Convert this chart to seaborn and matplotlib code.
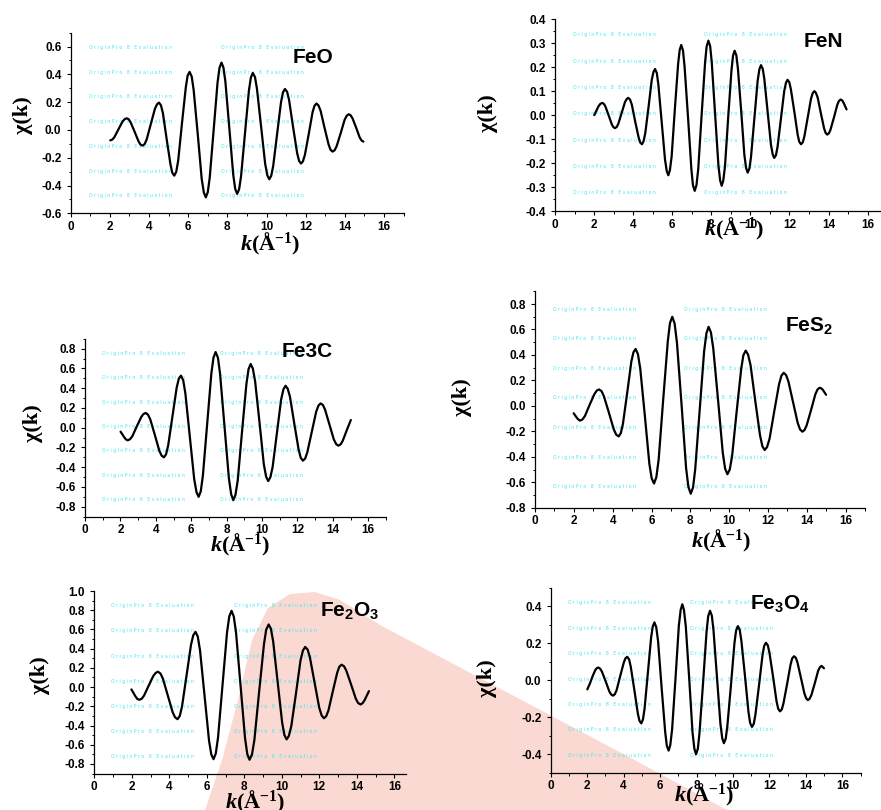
import matplotlib
matplotlib.use("Agg")
import numpy as np
import pandas as pd
import matplotlib.pyplot as plt
import seaborn as sns
from matplotlib.ticker import MultipleLocator, FormatStrFormatter
from matplotlib.patches import Polygon

# EXAFS chi(k) curves
k_feo = [2.02, 2.13, 2.23, 2.44, 2.65, 2.76, 2.86, 2.96, 3.06, 3.27, 3.47, 3.57,
         3.67, 3.78, 3.88, 4.09, 4.30, 4.41, 4.51, 4.61, 4.71, 4.90, 5.10, 5.19,
         5.29, 5.39, 5.49, 5.68, 5.88, 5.97, 6.07, 6.18, 6.28, 6.49, 6.69, 6.80,
         6.90, 7.00, 7.10, 7.30, 7.50, 7.60, 7.70, 7.80, 7.90, 8.10, 8.30, 8.40,
         8.50, 8.60, 8.70, 8.90, 9.10, 9.20, 9.30, 9.41, 9.51, 9.72, 9.93, 10.04,
         10.14, 10.24, 10.34, 10.54, 10.74, 10.84, 10.94, 11.05, 11.15, 11.35, 11.56, 11.66,
         11.76, 11.86, 11.96, 12.16, 12.35, 12.45, 12.55, 12.65, 12.76, 12.96, 13.17, 13.27,
         13.37, 13.48, 13.58, 13.79, 13.99, 14.10, 14.20, 14.29, 14.39, 14.58, 14.76, 14.86,
         14.95]
chi_feo = [-0.075, -0.069, -0.052, 0.005, 0.061, 0.078, 0.084, 0.077, 0.055, -0.015, -0.084, -0.106,
           -0.113, -0.101, -0.068, 0.042, 0.152, 0.185, 0.197, 0.177, 0.120, -0.066, -0.252, -0.309,
           -0.329, -0.301, -0.220, 0.045, 0.309, 0.390, 0.418, 0.384, 0.286, -0.034, -0.353, -0.451,
           -0.485, -0.448, -0.343, 0.000, 0.343, 0.448, 0.485, 0.449, 0.347, 0.013, -0.322, -0.424,
           -0.460, -0.427, -0.333, -0.025, 0.283, 0.377, 0.410, 0.381, 0.298, 0.028, -0.243, -0.326,
           -0.355, -0.330, -0.260, -0.030, 0.200, 0.270, 0.295, 0.275, 0.217, 0.027, -0.164, -0.222,
           -0.242, -0.226, -0.179, -0.026, 0.127, 0.174, 0.190, 0.177, 0.139, 0.017, -0.105, -0.143,
           -0.156, -0.146, -0.117, -0.022, 0.074, 0.103, 0.113, 0.106, 0.084, 0.015, -0.055, -0.077,
           -0.084]

k_fen = [2.01, 2.22, 2.32,
         2.42, 2.50, 2.58, 2.75, 2.91, 2.99, 3.07, 3.16, 3.24, 3.41, 3.58, 3.67,
         3.75, 3.84, 3.93, 4.10, 4.28, 4.36, 4.45, 4.53, 4.62, 4.79, 4.95, 5.04,
         5.12, 5.21, 5.29, 5.46, 5.63, 5.72, 5.80, 5.88, 5.97, 6.13, 6.30, 6.38,
         6.46, 6.55, 6.63, 6.81, 6.98, 7.06, 7.15, 7.24, 7.33, 7.50, 7.68, 7.76,
         7.85, 7.94, 8.02, 8.19, 8.36, 8.45, 8.53, 8.61, 8.70, 8.86, 9.03, 9.11,
         9.19, 9.28, 9.36, 9.53, 9.69, 9.78, 9.86, 9.95, 10.03, 10.20, 10.37, 10.46,
         10.54, 10.63, 10.71, 10.88, 11.05, 11.14, 11.22, 11.31, 11.39, 11.56, 11.73, 11.82,
         11.90, 11.99, 12.07, 12.25, 12.42, 12.50, 12.59, 12.68, 12.76, 12.93, 13.10, 13.19,
         13.27, 13.35, 13.44, 13.60, 13.77, 13.85, 13.93, 14.02, 14.10, 14.28, 14.45, 14.53,
         14.62, 14.70, 14.77, 14.92]
chi_fen = [0.000, 0.036, 0.047,
           0.051, 0.047, 0.036, -0.002, -0.039, -0.050, -0.054, -0.049, -0.036, 0.009, 0.054, 0.067,
           0.072, 0.065, 0.044, -0.025, -0.093, -0.114, -0.121, -0.109, -0.075, 0.036, 0.146, 0.180,
           0.192, 0.175, 0.127, -0.029, -0.185, -0.233, -0.250, -0.229, -0.171, 0.021, 0.213, 0.271,
           0.292, 0.269, 0.203, -0.012, -0.226, -0.292, -0.315, -0.291, -0.224, -0.003, 0.219, 0.286,
           0.310, 0.287, 0.222, 0.008, -0.206, -0.271, -0.294, -0.273, -0.212, -0.013, 0.186, 0.247,
           0.268, 0.249, 0.194, 0.015, -0.165, -0.220, -0.239, -0.222, -0.174, -0.016, 0.143, 0.191,
           0.208, 0.193, 0.152, 0.015, -0.122, -0.163, -0.178, -0.166, -0.131, -0.016, 0.100, 0.135,
           0.147, 0.137, 0.108, 0.013, -0.082, -0.111, -0.121, -0.113, -0.089, -0.011, 0.068, 0.092,
           0.100, 0.093, 0.074, 0.010, -0.055, -0.074, -0.081, -0.075, -0.060, -0.008, 0.044, 0.059,
           0.065, 0.061, 0.051, 0.024]

k_fe3c = [2.01, 2.21, 2.31,
          2.41, 2.54, 2.67, 2.92, 3.18, 3.30, 3.43, 3.56, 3.69, 3.95, 4.20, 4.33,
          4.46, 4.58, 4.70, 4.94, 5.18, 5.30, 5.42, 5.55, 5.67, 5.92, 6.17, 6.30,
          6.42, 6.54, 6.66, 6.90, 7.14, 7.26, 7.38, 7.51, 7.63, 7.88, 8.13, 8.26,
          8.38, 8.50, 8.63, 8.87, 9.12, 9.24, 9.36, 9.48, 9.61, 9.86, 10.10, 10.23,
          10.35, 10.47, 10.60, 10.84, 11.08, 11.21, 11.33, 11.45, 11.58, 11.82, 12.07, 12.19,
          12.31, 12.44, 12.56, 12.81, 13.06, 13.19, 13.31, 13.44, 13.56, 13.81, 14.06, 14.19,
          14.31, 14.44, 14.56, 14.81, 15.02]
chi_fe3c = [-0.040, -0.095, -0.118,
            -0.128, -0.117, -0.088, 0.011, 0.109, 0.138, 0.149, 0.132, 0.083, -0.076, -0.234, -0.283,
            -0.300, -0.269, -0.179, 0.114, 0.406, 0.496, 0.527, 0.480, 0.348, -0.087, -0.521, -0.653,
            -0.700, -0.644, -0.486, 0.033, 0.552, 0.710, 0.766, 0.709, 0.547, 0.017, -0.514, -0.676,
            -0.733, -0.681, -0.532, -0.044, 0.444, 0.593, 0.645, 0.600, 0.472, 0.053, -0.367, -0.495,
            -0.540, -0.503, -0.399, -0.058, 0.284, 0.388, 0.425, 0.396, 0.314, 0.046, -0.223, -0.305,
            -0.334, -0.312, -0.249, -0.044, 0.161, 0.224, 0.246, 0.230, 0.184, 0.032, -0.120, -0.166,
            -0.182, -0.169, -0.133, -0.016, 0.078]

k_fes2 = [1.99, 2.16, 2.24,
          2.32, 2.44, 2.57, 2.81, 3.06, 3.18, 3.30, 3.43, 3.55, 3.81, 4.06, 4.18,
          4.31, 4.42, 4.53, 4.75, 4.96, 5.07, 5.18, 5.30, 5.42, 5.66, 5.89, 6.01,
          6.13, 6.25, 6.37, 6.60, 6.84, 6.95, 7.07, 7.19, 7.31, 7.55, 7.78, 7.90,
          8.02, 8.14, 8.25, 8.48, 8.71, 8.83, 8.94, 9.06, 9.18, 9.43, 9.67, 9.79,
          9.91, 10.03, 10.15, 10.38, 10.62, 10.73, 10.85, 10.97, 11.10, 11.34, 11.59, 11.71,
          11.83, 11.95, 12.08, 12.32, 12.57, 12.69, 12.81, 12.93, 13.05, 13.29, 13.53, 13.65,
          13.77, 13.88, 13.99, 14.22, 14.44, 14.55, 14.66, 14.75, 14.83, 14.99]
chi_fes2 = [-0.058, -0.095, -0.108,
            -0.116, -0.107, -0.080, 0.007, 0.093, 0.120, 0.129, 0.115, 0.075, -0.056, -0.186, -0.226,
            -0.240, -0.214, -0.140, 0.104, 0.347, 0.421, 0.447, 0.407, 0.293, -0.082, -0.456, -0.570,
            -0.610, -0.560, -0.419, 0.045, 0.509, 0.650, 0.700, 0.647, 0.497, 0.005, -0.487, -0.637,
            -0.690, -0.640, -0.499, -0.035, 0.430, 0.571, 0.621, 0.577, 0.452, 0.042, -0.368, -0.493,
            -0.537, -0.500, -0.395, -0.052, 0.292, 0.397, 0.434, 0.404, 0.320, 0.044, -0.233, -0.317,
            -0.347, -0.324, -0.258, -0.044, 0.171, 0.237, 0.260, 0.242, 0.192, 0.029, -0.135, -0.185,
            -0.203, -0.190, -0.153, -0.031, 0.092, 0.129, 0.142, 0.137, 0.125, 0.087]

k_fe2o3 = [1.98, 2.19, 2.29,
           2.40, 2.53, 2.65, 2.90, 3.15, 3.28, 3.40, 3.53, 3.66, 3.92, 4.18, 4.31,
           4.44, 4.56, 4.68, 4.92, 5.16, 5.28, 5.40, 5.52, 5.64, 5.88, 6.12, 6.24,
           6.36, 6.48, 6.60, 6.84, 7.08, 7.20, 7.32, 7.44, 7.56, 7.80, 8.04, 8.16,
           8.28, 8.41, 8.54, 8.79, 9.05, 9.17, 9.30, 9.42, 9.54, 9.78, 10.02, 10.14,
           10.26, 10.38, 10.51, 10.76, 11.00, 11.13, 11.25, 11.38, 11.50, 11.75, 12.00, 12.13,
           12.25, 12.37, 12.49, 12.72, 12.96, 13.07, 13.19, 13.32, 13.44, 13.70, 13.95, 14.07,
           14.20, 14.31, 14.42, 14.65]
chi_fe2o3 = [-0.024, -0.095, -0.122,
             -0.132, -0.121, -0.089, 0.014, 0.117, 0.149, 0.160, 0.141, 0.088, -0.087, -0.262, -0.315,
             -0.334, -0.299, -0.201, 0.120, 0.442, 0.540, 0.575, 0.525, 0.382, -0.088, -0.557, -0.700,
             -0.750, -0.691, -0.525, 0.022, 0.569, 0.735, 0.794, 0.735, 0.568, 0.019, -0.530, -0.697,
             -0.756, -0.702, -0.550, -0.052, 0.446, 0.598, 0.652, 0.607, 0.477, 0.054, -0.369, -0.499,
             -0.544, -0.507, -0.404, -0.063, 0.278, 0.381, 0.418, 0.390, 0.310, 0.047, -0.216, -0.296,
             -0.324, -0.303, -0.243, -0.046, 0.152, 0.212, 0.233, 0.217, 0.173, 0.026, -0.121, -0.165,
             -0.181, -0.168, -0.135, -0.042]

k_fe3o4 = [2.01, 2.16, 2.31, 2.46, 2.54,
           2.61, 2.71, 2.81, 3.02, 3.22, 3.32, 3.42, 3.52, 3.62, 3.81, 4.01, 4.10,
           4.20, 4.30, 4.39, 4.59, 4.78, 4.87, 4.97, 5.06, 5.15, 5.33, 5.51, 5.60,
           5.69, 5.79, 5.89, 6.08, 6.28, 6.37, 6.47, 6.56, 6.66, 6.85, 7.03, 7.13,
           7.22, 7.31, 7.41, 7.60, 7.78, 7.88, 7.97, 8.07, 8.16, 8.36, 8.55, 8.64,
           8.74, 8.84, 8.93, 9.12, 9.31, 9.41, 9.50, 9.60, 9.69, 9.89, 10.08, 10.17,
           10.27, 10.37, 10.46, 10.66, 10.85, 10.94, 11.04, 11.14, 11.23, 11.43, 11.62, 11.71,
           11.81, 11.91, 12.00, 12.20, 12.39, 12.48, 12.58, 12.68, 12.77, 12.97, 13.16, 13.25,
           13.35, 13.45, 13.54, 13.73, 13.92, 14.02, 14.11, 14.20, 14.30, 14.49, 14.67, 14.77,
           14.86, 14.99]
chi_fe3o4 = [-0.049, -0.015, 0.025, 0.058, 0.066,
             0.069, 0.063, 0.047, -0.007, -0.061, -0.077, -0.083, -0.075, -0.052, 0.022, 0.096, 0.119,
             0.127, 0.113, 0.074, -0.053, -0.180, -0.219, -0.233, -0.212, -0.153, 0.040, 0.233, 0.292,
             0.313, 0.287, 0.212, -0.034, -0.279, -0.354, -0.380, -0.350, -0.265, 0.016, 0.296, 0.381,
             0.411, 0.380, 0.293, 0.006, -0.282, -0.369, -0.400, -0.371, -0.287, -0.012, 0.263, 0.347,
             0.376, 0.349, 0.271, 0.018, -0.235, -0.313, -0.340, -0.316, -0.248, -0.024, 0.201, 0.269,
             0.293, 0.272, 0.213, 0.021, -0.172, -0.231, -0.252, -0.235, -0.186, -0.025, 0.137, 0.186,
             0.203, 0.189, 0.149, 0.018, -0.114, -0.154, -0.168, -0.157, -0.124, -0.019, 0.086, 0.119,
             0.130, 0.121, 0.095, 0.012, -0.072, -0.098, -0.107, -0.100, -0.080, -0.015, 0.051, 0.071,
             0.078, 0.065]

sample_names = ["FeO", "FeN", "Fe3C", "FeS$_\\mathsf{2}$", "Fe$_\\mathsf{2}$O$_\\mathsf{3}$",
                "Fe$_\\mathsf{3}$O$_\\mathsf{4}$"]

W, H = 881, 810  # output size in pixels

sns.set_style("ticks")
plt.rcParams["font.family"] = ["Liberation Sans", "DejaVu Sans"]
plt.rcParams["font.weight"] = "bold"
plt.rcParams["text.color"] = "black"
plt.rcParams["xtick.color"] = "black"
plt.rcParams["ytick.color"] = "black"
plt.rcParams["axes.unicode_minus"] = False
plt.rcParams["mathtext.fontset"] = "custom"
plt.rcParams["mathtext.rm"] = "Liberation Serif:bold"
plt.rcParams["mathtext.it"] = "Liberation Serif:italic:bold"
plt.rcParams["mathtext.bf"] = "Liberation Serif:bold"
plt.rcParams["mathtext.sf"] = "Liberation Sans:bold"

fig = plt.figure(figsize=(W / 100, H / 100), dpi=100)
fig.patch.set_facecolor("white")

# pale logo left in the background of the lower row
logo_px = [(205, 810), (222, 760), (238, 700), (252, 640), (268, 608), (290, 594),
           (315, 592), (340, 600), (380, 625), (629, 757), (727, 810)]
logo = Polygon([(x / W, 1 - y / H) for x, y in logo_px], closed=True,
               transform=fig.transFigure, facecolor="#fad9d2", edgecolor="none", zorder=-1)
fig.patches.append(logo)

# layout: axes box in px (left, top, right, bottom), limits, label positions in px
panels = [
    dict(k=k_feo, chi=chi_feo, box=(70.7, 32.7, 403.6, 213.3), xmax=17, ylim=(-0.6, 0.7),
         ystep=0.2, title_at=(11.35, 0.485), xlab=(270, 244), ylab=(23, 115)),
    dict(k=k_fen, chi=chi_fen, box=(555, 19, 887.2, 211.3), xmax=17, ylim=(-0.4, 0.4),
         ystep=0.1, title_at=(12.7, 0.285), xlab=(734, 229), ylab=(488, 113)),
    dict(k=k_fe3c, chi=chi_fe3c, box=(85, 338.8, 385.9, 516.6), xmax=17, ylim=(-0.9, 0.9),
         ystep=0.2, title_at=(11.1, 0.72), xlab=(240, 545), ylab=(33, 423)),
    dict(k=k_fes2, chi=chi_fes2, box=(535, 291.3, 865.1, 507.7), xmax=17, ylim=(-0.8, 0.9),
         ystep=0.2, title_at=(12.87, 0.59), xlab=(721, 541), ylab=(462, 397)),
    dict(k=k_fe2o3, chi=chi_fe2o3, box=(94.3, 591, 405.5, 773.6), xmax=16.6, ylim=(-0.9, 1.0),
         ystep=0.2, title_at=(12.04, 0.74), xlab=(255, 802), ylab=(40, 675)),
    dict(k=k_fe3o4, chi=chi_fe3o4, box=(550.7, 587.8, 860.6, 772.8), xmax=17, ylim=(-0.5, 0.5),
         ystep=0.2, title_at=(10.93, 0.384), xlab=(704, 795), ylab=(487, 678)),
]

watermark = "O r i g i n P r o   8   E v a l u a t i o n"

for name, p in zip(sample_names, panels):
    l, t, r, b = p["box"]
    ax = fig.add_axes([l / W, 1 - b / H, (r - l) / W, (b - t) / H])
    ax.set_facecolor("none")

    # OriginPro evaluation stamp
    for i in range(7):
        for xf in (0.055, 0.45):
            ax.text(xf, 1 - 0.082 - i * 0.137, watermark, transform=ax.transAxes,
                    fontsize=3.3, color="#45e6f2", fontweight="normal",
                    family="DejaVu Sans", ha="left", va="center", zorder=1)

    df = pd.DataFrame({"k": p["k"], "chi": p["chi"]})
    sns.lineplot(data=df, x="k", y="chi", ax=ax, color="black", linewidth=1.6,
                 sort=False, estimator=None, zorder=3, solid_joinstyle="round")

    ax.set_xlim(0, p["xmax"])
    ax.set_ylim(*p["ylim"])
    ax.xaxis.set_major_locator(MultipleLocator(2))
    ax.xaxis.set_minor_locator(MultipleLocator(1))
    ax.yaxis.set_major_locator(MultipleLocator(p["ystep"]))
    ax.yaxis.set_minor_locator(MultipleLocator(p["ystep"] / 2))
    ax.yaxis.set_major_formatter(FormatStrFormatter("%.1f"))
    ax.tick_params(which="major", direction="out", length=3.2, width=0.8,
                   labelsize=8.5, color="black")
    ax.tick_params(which="minor", direction="out", length=1.8, width=0.7, color="black")
    ax.tick_params(axis="y", pad=3.5)
    ax.tick_params(axis="x", pad=2)
    ax.set_xlabel("")
    ax.set_ylabel("")
    sns.despine(ax=ax)
    for s in ("left", "bottom"):
        ax.spines[s].set_linewidth(0.9)
        ax.spines[s].set_color("black")
    for lab in ax.get_xticklabels() + ax.get_yticklabels():
        lab.set_fontweight("bold")

    ax.text(p["title_at"][0], p["title_at"][1], name, fontsize=15, fontweight="bold",
            ha="left", va="baseline", zorder=4)

    fig.text(p["xlab"][0] / W, 1 - p["xlab"][1] / H, r"$\mathit{k}\mathrm{(Å^{-1})}$",
             fontsize=16, ha="center", va="center")
    fig.text(p["ylab"][0] / W, 1 - p["ylab"][1] / H, "χ(k)", fontsize=16,
             family="Liberation Serif", fontweight="bold", rotation=90,
             ha="center", va="center")

fig.savefig("out.png", dpi=100)
